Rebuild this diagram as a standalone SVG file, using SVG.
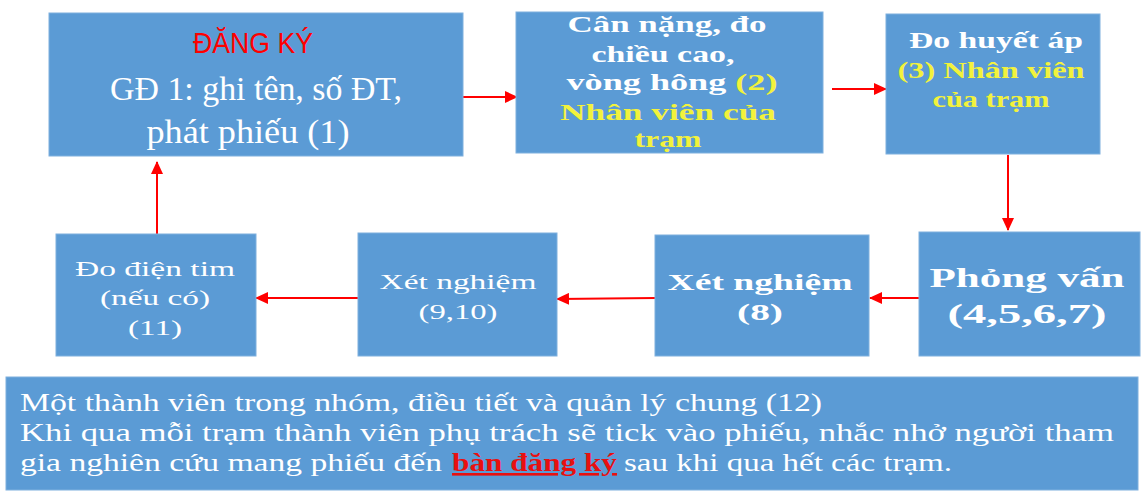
<svg xmlns="http://www.w3.org/2000/svg" width="1147" height="496" viewBox="0 0 1147 496">
<style>
.box{fill:#5B9BD5;stroke:#7FB0DE;stroke-width:1}
.t{font-family:"Liberation Serif","Times New Roman",serif;fill:#FFFFFF;text-anchor:middle}
.b{font-weight:bold}
.y{fill:#F2F23C}
.red{fill:#FF0000}
.sans{font-family:"Liberation Sans",Arial,sans-serif}
.bt{font-family:"Liberation Serif","Times New Roman",serif;fill:#FFFFFF;font-size:26px}
.conn{stroke:#FF0000;stroke-width:2;fill:none;marker-end:url(#ah)}
</style>
<defs>
<marker id="ah" markerUnits="userSpaceOnUse" markerWidth="13" markerHeight="12" refX="12" refY="6" orient="auto">
<path d="M0,0 L13,6 L0,12 z" fill="#FF0000"/>
</marker>
</defs>
<rect width="1147" height="496" fill="#FFFFFF"/>

<g id="connectors">
<path class="conn" d="M463,97 L517,97"/>
<path class="conn" d="M832,89 L886,89"/>
<path class="conn" d="M1008,155 L1008,230"/>
<path class="conn" d="M919,298 L870,298"/>
<path class="conn" d="M656,298 L557,299"/>
<path class="conn" d="M358,298 L256,298"/>
<path class="conn" d="M157,234 L157,162"/>
</g>

<g id="n1">
<rect class="box" x="49" y="13" width="414" height="143"/>
<text class="t red sans" x="253" y="53" font-size="30" textLength="120" lengthAdjust="spacingAndGlyphs">ĐĂNG KÝ</text>
<text class="t" x="256" y="100" font-size="33" textLength="292" lengthAdjust="spacingAndGlyphs">GĐ 1: ghi tên, số ĐT,</text>
<text class="t" x="248" y="143" font-size="33" textLength="203" lengthAdjust="spacingAndGlyphs">phát phiếu (1)</text>
</g>

<g id="n2">
<rect class="box" x="516" y="12" width="307" height="141"/>
<text class="t b" x="667" y="32" font-size="24" textLength="199" lengthAdjust="spacingAndGlyphs">Cân nặng, đo</text>
<text class="t b" x="663" y="62" font-size="24" textLength="143" lengthAdjust="spacingAndGlyphs">chiều cao,</text>
<text class="t b" x="672" y="90" font-size="24" textLength="211" lengthAdjust="spacingAndGlyphs">vòng hông <tspan class="y">(2)</tspan></text>
<text class="t b y" x="668" y="120" font-size="24" textLength="216" lengthAdjust="spacingAndGlyphs">Nhân viên của</text>
<text class="t b y" x="668" y="147" font-size="24" textLength="67" lengthAdjust="spacingAndGlyphs">trạm</text>
</g>

<g id="n3">
<rect class="box" x="886" y="14" width="214" height="140"/>
<text class="t b" x="996" y="48" font-size="23" textLength="174" lengthAdjust="spacingAndGlyphs">Đo huyết áp</text>
<text class="t b y" x="991" y="78" font-size="23" textLength="187" lengthAdjust="spacingAndGlyphs">(3) Nhân viên</text>
<text class="t b y" x="991" y="107" font-size="23" textLength="117" lengthAdjust="spacingAndGlyphs">của trạm</text>
</g>

<g id="n4">
<rect class="box" x="919" y="232" width="221" height="124"/>
<text class="t b" x="1027" y="287" font-size="27" textLength="195" lengthAdjust="spacingAndGlyphs">Phỏng vấn</text>
<text class="t b" x="1027" y="323" font-size="27" textLength="159" lengthAdjust="spacingAndGlyphs">(4,5,6,7)</text>
</g>

<g id="n5">
<rect class="box" x="655" y="235" width="214" height="121"/>
<text class="t b" x="760" y="290" font-size="24" textLength="185" lengthAdjust="spacingAndGlyphs">Xét nghiệm</text>
<text class="t b" x="760" y="320" font-size="24" textLength="46" lengthAdjust="spacingAndGlyphs">(8)</text>
</g>

<g id="n6">
<rect class="box" x="358" y="233" width="199" height="123"/>
<text class="t" x="458" y="289" font-size="22" textLength="157" lengthAdjust="spacingAndGlyphs">Xét nghiệm</text>
<text class="t" x="458" y="319" font-size="22" textLength="79" lengthAdjust="spacingAndGlyphs">(9,10)</text>
</g>

<g id="n7">
<rect class="box" x="56" y="234" width="200" height="122"/>
<text class="t" x="155" y="276" font-size="22" textLength="160" lengthAdjust="spacingAndGlyphs">Đo điện tim</text>
<text class="t" x="155" y="305" font-size="22" textLength="110" lengthAdjust="spacingAndGlyphs">(nếu có)</text>
<text class="t" x="155" y="335" font-size="22" textLength="54" lengthAdjust="spacingAndGlyphs">(11)</text>
</g>

<g id="n8">
<rect class="box" x="6" y="377" width="1132" height="113"/>
<text class="bt" x="20" y="411" textLength="802" lengthAdjust="spacingAndGlyphs">Một thành viên trong nhóm, điều tiết và quản lý chung (12)</text>
<text class="bt" x="20" y="441" textLength="1094" lengthAdjust="spacingAndGlyphs">Khi qua mỗi trạm thành viên phụ trách sẽ tick vào phiếu, nhắc nhở người tham</text>
<text class="bt" x="20" y="471" textLength="422" lengthAdjust="spacingAndGlyphs">gia nghiên cứu mang phiếu đến</text>
<text class="bt" x="452" y="471" textLength="165" lengthAdjust="spacingAndGlyphs" font-weight="bold" style="fill:#E81010" text-decoration="underline">bàn đăng ký</text>
<text class="bt" x="624" y="471" textLength="328" lengthAdjust="spacingAndGlyphs">sau khi qua hết các trạm.</text>
</g>
</svg>
